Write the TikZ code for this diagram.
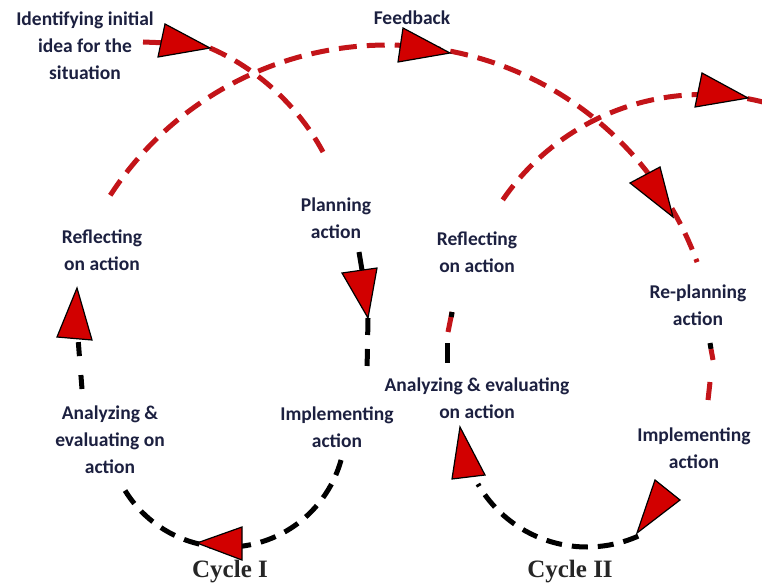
\documentclass[tikz,border=0pt]{standalone}
\usepackage{fontspec}
\setmainfont{Carlito}
\newfontfamily\cyclefont{Liberation Serif}
\definecolor{dashred}{RGB}{195,20,25}
\definecolor{arrred}{RGB}{210,0,0}
\definecolor{txt}{RGB}{28,32,64}
\begin{document}
\begin{tikzpicture}[x=1pt,y=-1pt,
 lbl/.style={align=center, text=txt, font=\fontsize{19.5}{27}\selectfont\bfseries, inner sep=0pt},
 cyc/.style={text=black!85, font=\cyclefont\fontsize{25}{28}\selectfont\bfseries, inner sep=0pt},
 rdash/.style={draw=dashred, line width=5pt, dash pattern=on 18pt off 10pt},
 bdash/.style={draw=black, line width=5pt, dash pattern=on 16pt off 10pt},
 solidb/.style={draw=black, line width=5pt},
 solidr/.style={draw=dashred, line width=5pt},
 tri/.style={fill=arrred, draw=black, line width=1.2pt, line join=miter}]
\useasboundingbox (0,0) rectangle (762,585);

% labels
\node[lbl] (ident) at (85,45.5) {Identifying initial\\idea for the\\situation};
\node[lbl] (feed) at (412,18) {Feedback};
\node[lbl] (plan) at (336,218) {Planning\\action};
\node[lbl] (refl1) at (102,250) {Reflecting\\on action};
\node[lbl] (anal1) at (110,440) {Analyzing \&\\evaluating on\\action};
\node[lbl] (impl1) at (337,427) {Implementing\\action};
\node[lbl] (refl2) at (477,252) {Reflecting\\on action};
\node[lbl] (replan) at (698,305) {Re-planning\\action};
\node[lbl] (anal2) at (477,398) {Analyzing \& evaluating\\on action};
\node[lbl] (impl2) at (694,448) {Implementing\\action};
\node[cyc] (c1) at (230,572) {Cycle I};
\node[cyc] (c2) at (570,572) {Cycle II};

% arrow tips
\coordinate (a1) at (210,48);
\coordinate (a2) at (450,53);
\coordinate (a3) at (748,98);
\coordinate (a4) at (673,217);
\coordinate (a5) at (368,318);
\coordinate (a6) at (197,543);
\coordinate (a7) at (77,288);
\coordinate (a8) at (637,533);
\coordinate (a9) at (460,427);
\coordinate (s1) at (143,42);
\coordinate (e1) at (323,152);
\coordinate (p0) at (359,252);
\coordinate (p1) at (367,372);

% red paths
\draw[solidr] (s1) -- (168,43);
\draw[rdash] (a1) .. controls (250,65) and (295,100) .. (e1);
\draw[rdash] plot[domain=147:20, samples=90, variable=\t] ({387+330*cos(\t)},{375-330*sin(\t)});
\draw[rdash] plot[domain=145.5:74, samples=60, variable=\t] ({703+243*cos(\t)},{337.5-243*sin(\t)});

% cycle I black
\draw[solidb] (p0) -- (364,282);
\draw[solidb, dash pattern=on 17pt off 14pt] (a5) -- (p1);
\draw[bdash] plot[domain=-15.5:-148.6, samples=60, variable=\t] ({226.4+119*cos(\t)},{428.2-119*sin(\t)});
\draw[solidb, dash pattern=on 14pt off 19pt] (82,389) -- (78,338);

% cycle II
\draw[bdash] plot[domain=-66:-150, samples=50, variable=\t] ({587+126*cos(\t)},{421-126*sin(\t)});
\draw[solidr] (452,312) -- (448,332);
\draw[solidb] (452,312) -- (451.3,317);
\draw[solidb] (447,343) -- (447,363);
\draw[solidb] (710,343) -- (711,349);
\draw[solidr] (711,349) -- (713,360);
\draw[solidr] (710,382) -- (708,400);

% triangles
\draw[tri] (a1) -- (165,24) -- (158,57) -- cycle;
\draw[tri] (a2) -- (403,28) -- (398,62) -- cycle;
\draw[tri] (a3) -- (702,73) -- (695,107) -- cycle;
\draw[tri] (a4) -- (660,167) -- (630,183) -- cycle;
\draw[tri] (a5) -- (342,273) -- (377,268) -- cycle;
\draw[tri] (a6) -- (242,527) -- (242,560) -- cycle;
\draw[tri] (a7) -- (57,337) -- (92,340) -- cycle;
\draw[tri] (a8) -- (655,480) -- (680,500) -- cycle;
\draw[tri] (a9) -- (452,479) -- (485,475) -- cycle;
\end{tikzpicture}
\end{document}
